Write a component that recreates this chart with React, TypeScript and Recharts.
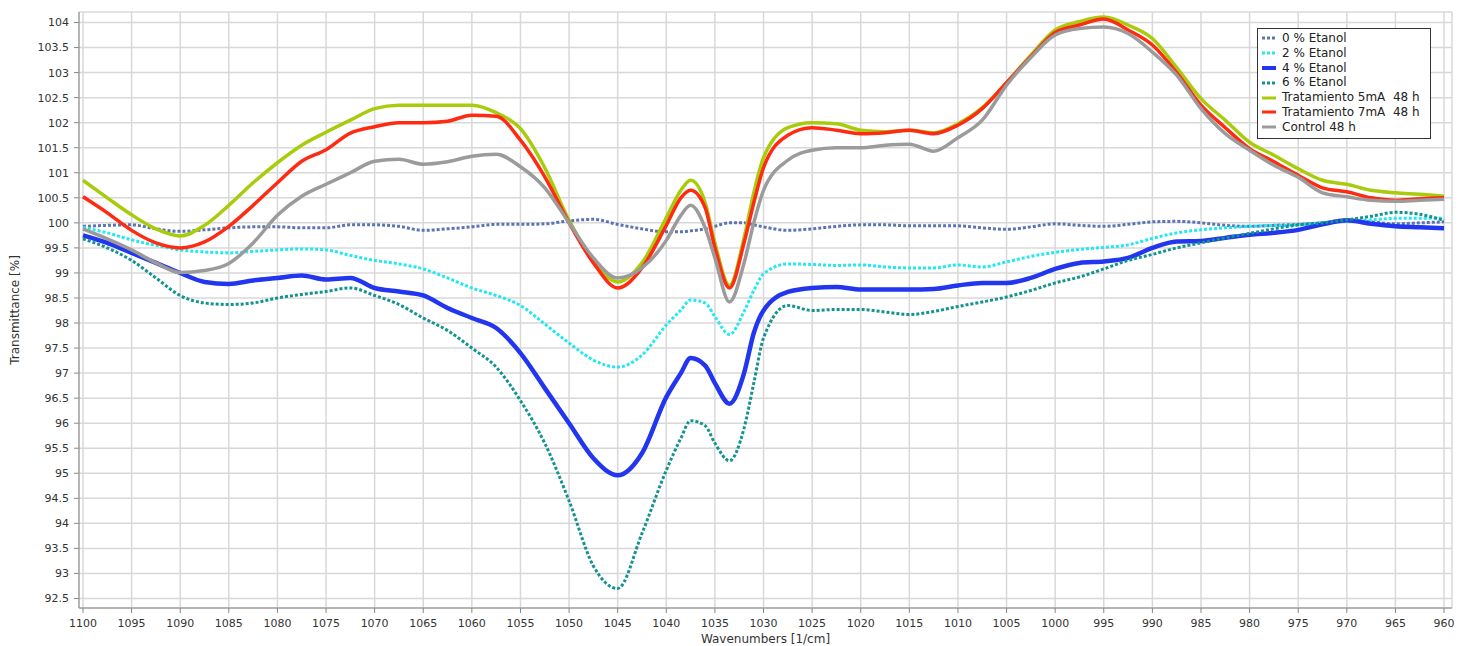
import { LineChart, Line, XAxis, YAxis, CartesianGrid, Legend } from "recharts";

const wavenumbers = [
  1100, 1097.5, 1095, 1092.5, 1090, 1087.5, 1085, 1082.5, 1080, 1077.5, 1075,
  1072.5, 1070, 1067.5, 1065, 1062.5, 1060, 1057.5, 1055, 1052.5, 1050, 1047.5,
  1045, 1042.5, 1040, 1038.5, 1037.5, 1036, 1035, 1033.5, 1032, 1031, 1030,
  1027.5, 1025, 1022.5, 1020, 1017.5, 1015, 1012.5, 1010, 1007.5, 1005, 1002.5,
  1000, 997.5, 995, 992.5, 990, 987.5, 985, 982.5, 980, 977.5, 975, 972.5, 970,
  967.5, 965, 962.5, 960,
];

const etanol0 = [
  99.93, 99.95, 99.96, 99.88, 99.83, 99.86, 99.9, 99.92, 99.92, 99.9, 99.9,
  99.96, 99.96, 99.93, 99.85, 99.88, 99.92, 99.97, 99.97, 99.98, 100.04, 100.07,
  99.97, 99.88, 99.82, 99.82, 99.84, 99.88, 99.93, 100.0, 100.0, 99.96, 99.92,
  99.85, 99.88, 99.93, 99.96, 99.96, 99.94, 99.94, 99.94, 99.9, 99.87, 99.92,
  99.98, 99.95, 99.93, 99.97, 100.02, 100.03, 100.0, 99.95, 99.93, 99.95, 99.97,
  100.0, 100.04, 100.02, 99.98, 100.0, 100.02,
];

const etanol2 = [
  99.91, 99.8, 99.66, 99.55, 99.46, 99.42, 99.4, 99.43, 99.46, 99.48, 99.46,
  99.35, 99.25, 99.18, 99.08, 98.9, 98.7, 98.55, 98.35, 97.98, 97.6, 97.26,
  97.12, 97.36, 97.96, 98.26, 98.46, 98.4, 98.13, 97.77, 98.23, 98.65, 98.98,
  99.18, 99.17, 99.15, 99.16, 99.12, 99.1, 99.1, 99.16, 99.12, 99.22, 99.33,
  99.41, 99.47, 99.51, 99.56, 99.69, 99.8, 99.86, 99.9, 99.93, 99.95, 99.96,
  100.0, 100.03, 100.06, 100.09, 100.09, 100.09,
];

const etanol4 = [
  99.75, 99.6, 99.4, 99.2, 99.0, 98.82, 98.78, 98.85, 98.9, 98.95, 98.87, 98.9,
  98.7, 98.63, 98.55, 98.3, 98.1, 97.9, 97.4, 96.7, 96.0, 95.3, 94.96, 95.4,
  96.52, 97.0, 97.3, 97.15, 96.8, 96.39, 97.0, 97.8, 98.25, 98.62, 98.7, 98.72,
  98.67, 98.67, 98.67, 98.68, 98.75, 98.8, 98.8, 98.9, 99.08, 99.2, 99.23, 99.3,
  99.5, 99.63, 99.64, 99.7, 99.76, 99.8, 99.86, 99.97, 100.05, 99.98, 99.93,
  99.91, 99.89,
];

const etanol6 = [
  99.68, 99.5, 99.25, 98.9, 98.55, 98.4, 98.37, 98.4, 98.5, 98.57, 98.63, 98.7,
  98.55, 98.37, 98.1, 97.85, 97.5, 97.12, 96.45, 95.6, 94.45, 93.15, 92.7, 93.8,
  95.06, 95.7, 96.05, 95.95, 95.6, 95.25, 95.9, 96.8, 97.7, 98.35, 98.25, 98.27,
  98.27, 98.22, 98.17, 98.23, 98.33, 98.42, 98.52, 98.65, 98.8, 98.92, 99.08,
  99.25, 99.37, 99.5, 99.6, 99.7, 99.79, 99.88, 99.96, 100.0, 100.06, 100.13,
  100.21, 100.17, 100.05,
];

const trat5mA = [
  100.85, 100.5, 100.16, 99.88, 99.74, 99.95, 100.35, 100.8, 101.2, 101.55,
  101.81, 102.05, 102.28, 102.35, 102.35, 102.35, 102.35, 102.2, 101.88, 101.1,
  100.05, 99.25, 98.82, 99.2, 100.1, 100.65, 100.85, 100.4, 99.6, 98.75, 99.7,
  100.6, 101.3, 101.9, 102.0, 101.98, 101.85, 101.82, 101.85, 101.8, 101.98,
  102.3, 102.8, 103.35, 103.85, 104.02, 104.11, 103.95, 103.68, 103.1, 102.48,
  102.05, 101.61, 101.35, 101.08, 100.85, 100.77, 100.65, 100.6, 100.57, 100.53,
];

const trat7mA = [
  100.52, 100.2, 99.85, 99.6, 99.5, 99.62, 99.93, 100.35, 100.8, 101.23, 101.46,
  101.79, 101.92, 102.0, 102.0, 102.03, 102.15, 102.13, 101.65, 100.92, 100.0,
  99.2, 98.7, 99.1, 99.95, 100.5, 100.65, 100.3, 99.5, 98.7, 99.6, 100.4, 101.1,
  101.75, 101.9, 101.85, 101.78, 101.8, 101.85, 101.78, 101.95, 102.28, 102.8,
  103.32, 103.8, 103.95, 104.07, 103.85, 103.55, 103.0, 102.35, 101.9, 101.48,
  101.22, 100.95, 100.7, 100.62, 100.5, 100.45, 100.48, 100.5,
];

const control48 = [
  99.88, 99.68, 99.46, 99.2, 99.01, 99.05, 99.19, 99.6, 100.15, 100.53, 100.77,
  101.0, 101.23, 101.27, 101.17, 101.22, 101.33, 101.37, 101.12, 100.7, 100.0,
  99.3, 98.9, 99.1, 99.65, 100.15, 100.35, 99.9, 99.3, 98.42, 99.2, 100.0,
  100.65, 101.25, 101.45, 101.5, 101.5, 101.55, 101.57, 101.43, 101.7, 102.05,
  102.75, 103.3, 103.75, 103.88, 103.91, 103.78, 103.41, 102.95, 102.28, 101.78,
  101.45, 101.15, 100.91, 100.6, 100.52, 100.45, 100.43, 100.45, 100.47,
];

const xTicks = [
  1100, 1095, 1090, 1085, 1080, 1075, 1070, 1065, 1060, 1055, 1050, 1045, 1040,
  1035, 1030, 1025, 1020, 1015, 1010, 1005, 1000, 995, 990, 985, 980, 975, 970,
  965, 960,
];
const yTicks = [
  92.5, 93, 93.5, 94, 94.5, 95, 95.5, 96, 96.5, 97, 97.5, 98, 98.5, 99, 99.5,
  100, 100.5, 101, 101.5, 102, 102.5, 103, 103.5, 104,
];
const xMinor = Array.from({ length: 113 }, (_, i) => 960 + i * 1.25);
const yMinor = Array.from({ length: 118 }, (_, i) => +(92.4 + i * 0.1).toFixed(1));

const series = [
  { key: "e0", name: "0 % Etanol", values: etanol0, color: "#5a74b4", width: 3, dash: "3 2" },
  { key: "e2", name: "2 % Etanol", values: etanol2, color: "#22e8f2", width: 3, dash: "3 2" },
  { key: "e4", name: "4 % Etanol", values: etanol4, color: "#2236ef", width: 4.5, dash: undefined },
  { key: "e6", name: "6 % Etanol", values: etanol6, color: "#139390", width: 3, dash: "3 2" },
  { key: "t5", name: "Tratamiento 5mA  48 h", values: trat5mA, color: "#a8cc0c", width: 3.5, dash: undefined },
  { key: "t7", name: "Tratamiento 7mA  48 h", values: trat7mA, color: "#ff2a12", width: 3.5, dash: undefined },
  { key: "c", name: "Control 48 h", values: control48, color: "#9b9b9b", width: 3.5, dash: undefined },
];

const data = wavenumbers.map((w, i) => {
  const row: Record<string, number> = { w };
  series.forEach((s) => (row[s.key] = s.values[i]));
  return row;
});

function LegendBox() {
  return (
    <div
      style={{
        background: "#fff",
        border: "1px solid #333",
        padding: "2px 4px 3px 3px",
        fontSize: 12,
        color: "#222",
        lineHeight: "14.8px",
      }}
    >
      {series.map((s) => (
        <div key={s.key} style={{ display: "flex", alignItems: "center", whiteSpace: "pre" }}>
          <svg width={16} height={8} style={{ marginRight: 5 }}>
            <line
              x1={1}
              y1={4}
              x2={15}
              y2={4}
              stroke={s.color}
              strokeWidth={s.key === "e4" ? 4 : 3}
              strokeDasharray={s.dash}
            />
          </svg>
          <span>{s.name}</span>
        </div>
      ))}
    </div>
  );
}

export default function App() {
  return (
    <div
      style={{
        position: "absolute",
        left: 0,
        top: 0,
        width: 1459,
        height: 646,
        background: "#fff",
        fontFamily: "'DejaVu Sans', sans-serif",
      }}
    >
      <LineChart
        width={1459}
        height={646}
        data={data}
        margin={{ top: 12, right: 7, bottom: 0, left: 0 }}
      >
        <XAxis
          xAxisId="minor"
          dataKey="w"
          type="number"
          reversed
          domain={[959.18, 1100.41]}
          allowDataOverflow
          ticks={xMinor}
          height={0}
          axisLine={false}
          tickSize={3}
          stroke="#777"
          tickFormatter={() => ""}
        />
        <XAxis
          dataKey="w"
          type="number"
          reversed
          domain={[959.18, 1100.41]}
          allowDataOverflow
          ticks={xTicks}
          interval={0}
          height={38}
          stroke="#888"
          tickSize={5}
          tickMargin={6}
          tick={{ fill: "#333", fontSize: 11 }}
          label={{ value: "Wavenumbers [1/cm]", position: "insideBottom", offset: 3, fill: "#333", fontSize: 12 }}
        />
        <YAxis
          yAxisId="minor"
          type="number"
          domain={[92.31, 104.21]}
          allowDataOverflow
          ticks={yMinor}
          width={0}
          axisLine={false}
          tickSize={3}
          stroke="#777"
          tickFormatter={() => ""}
        />
        <YAxis
          type="number"
          domain={[92.31, 104.21]}
          allowDataOverflow
          ticks={yTicks}
          interval={0}
          width={79}
          stroke="#888"
          tickSize={5}
          tickMargin={5}
          tick={{ fill: "#333", fontSize: 11 }}
          label={{
            value: "Transmittance [%]",
            angle: -90,
            position: "insideLeft",
            offset: 15,
            fill: "#333",
            fontSize: 12,
            style: { textAnchor: "middle" },
          }}
        />
        <CartesianGrid stroke="#d8d8d8" strokeWidth={1.5} />
        {series.map((s) => (
          <Line
            key={s.key}
            dataKey={s.key}
            name={s.name}
            type="monotone"
            stroke={s.color}
            strokeWidth={s.width}
            strokeDasharray={s.dash}
            dot={false}
            activeDot={false}
            isAnimationActive={false}
          />
        ))}
        <Legend
          layout="vertical"
          align="center"
          verticalAlign="middle"
          wrapperStyle={{ left: 1257, top: 28, width: 174 }}
          content={() => <LegendBox />}
        />
      </LineChart>
    </div>
  );
}
